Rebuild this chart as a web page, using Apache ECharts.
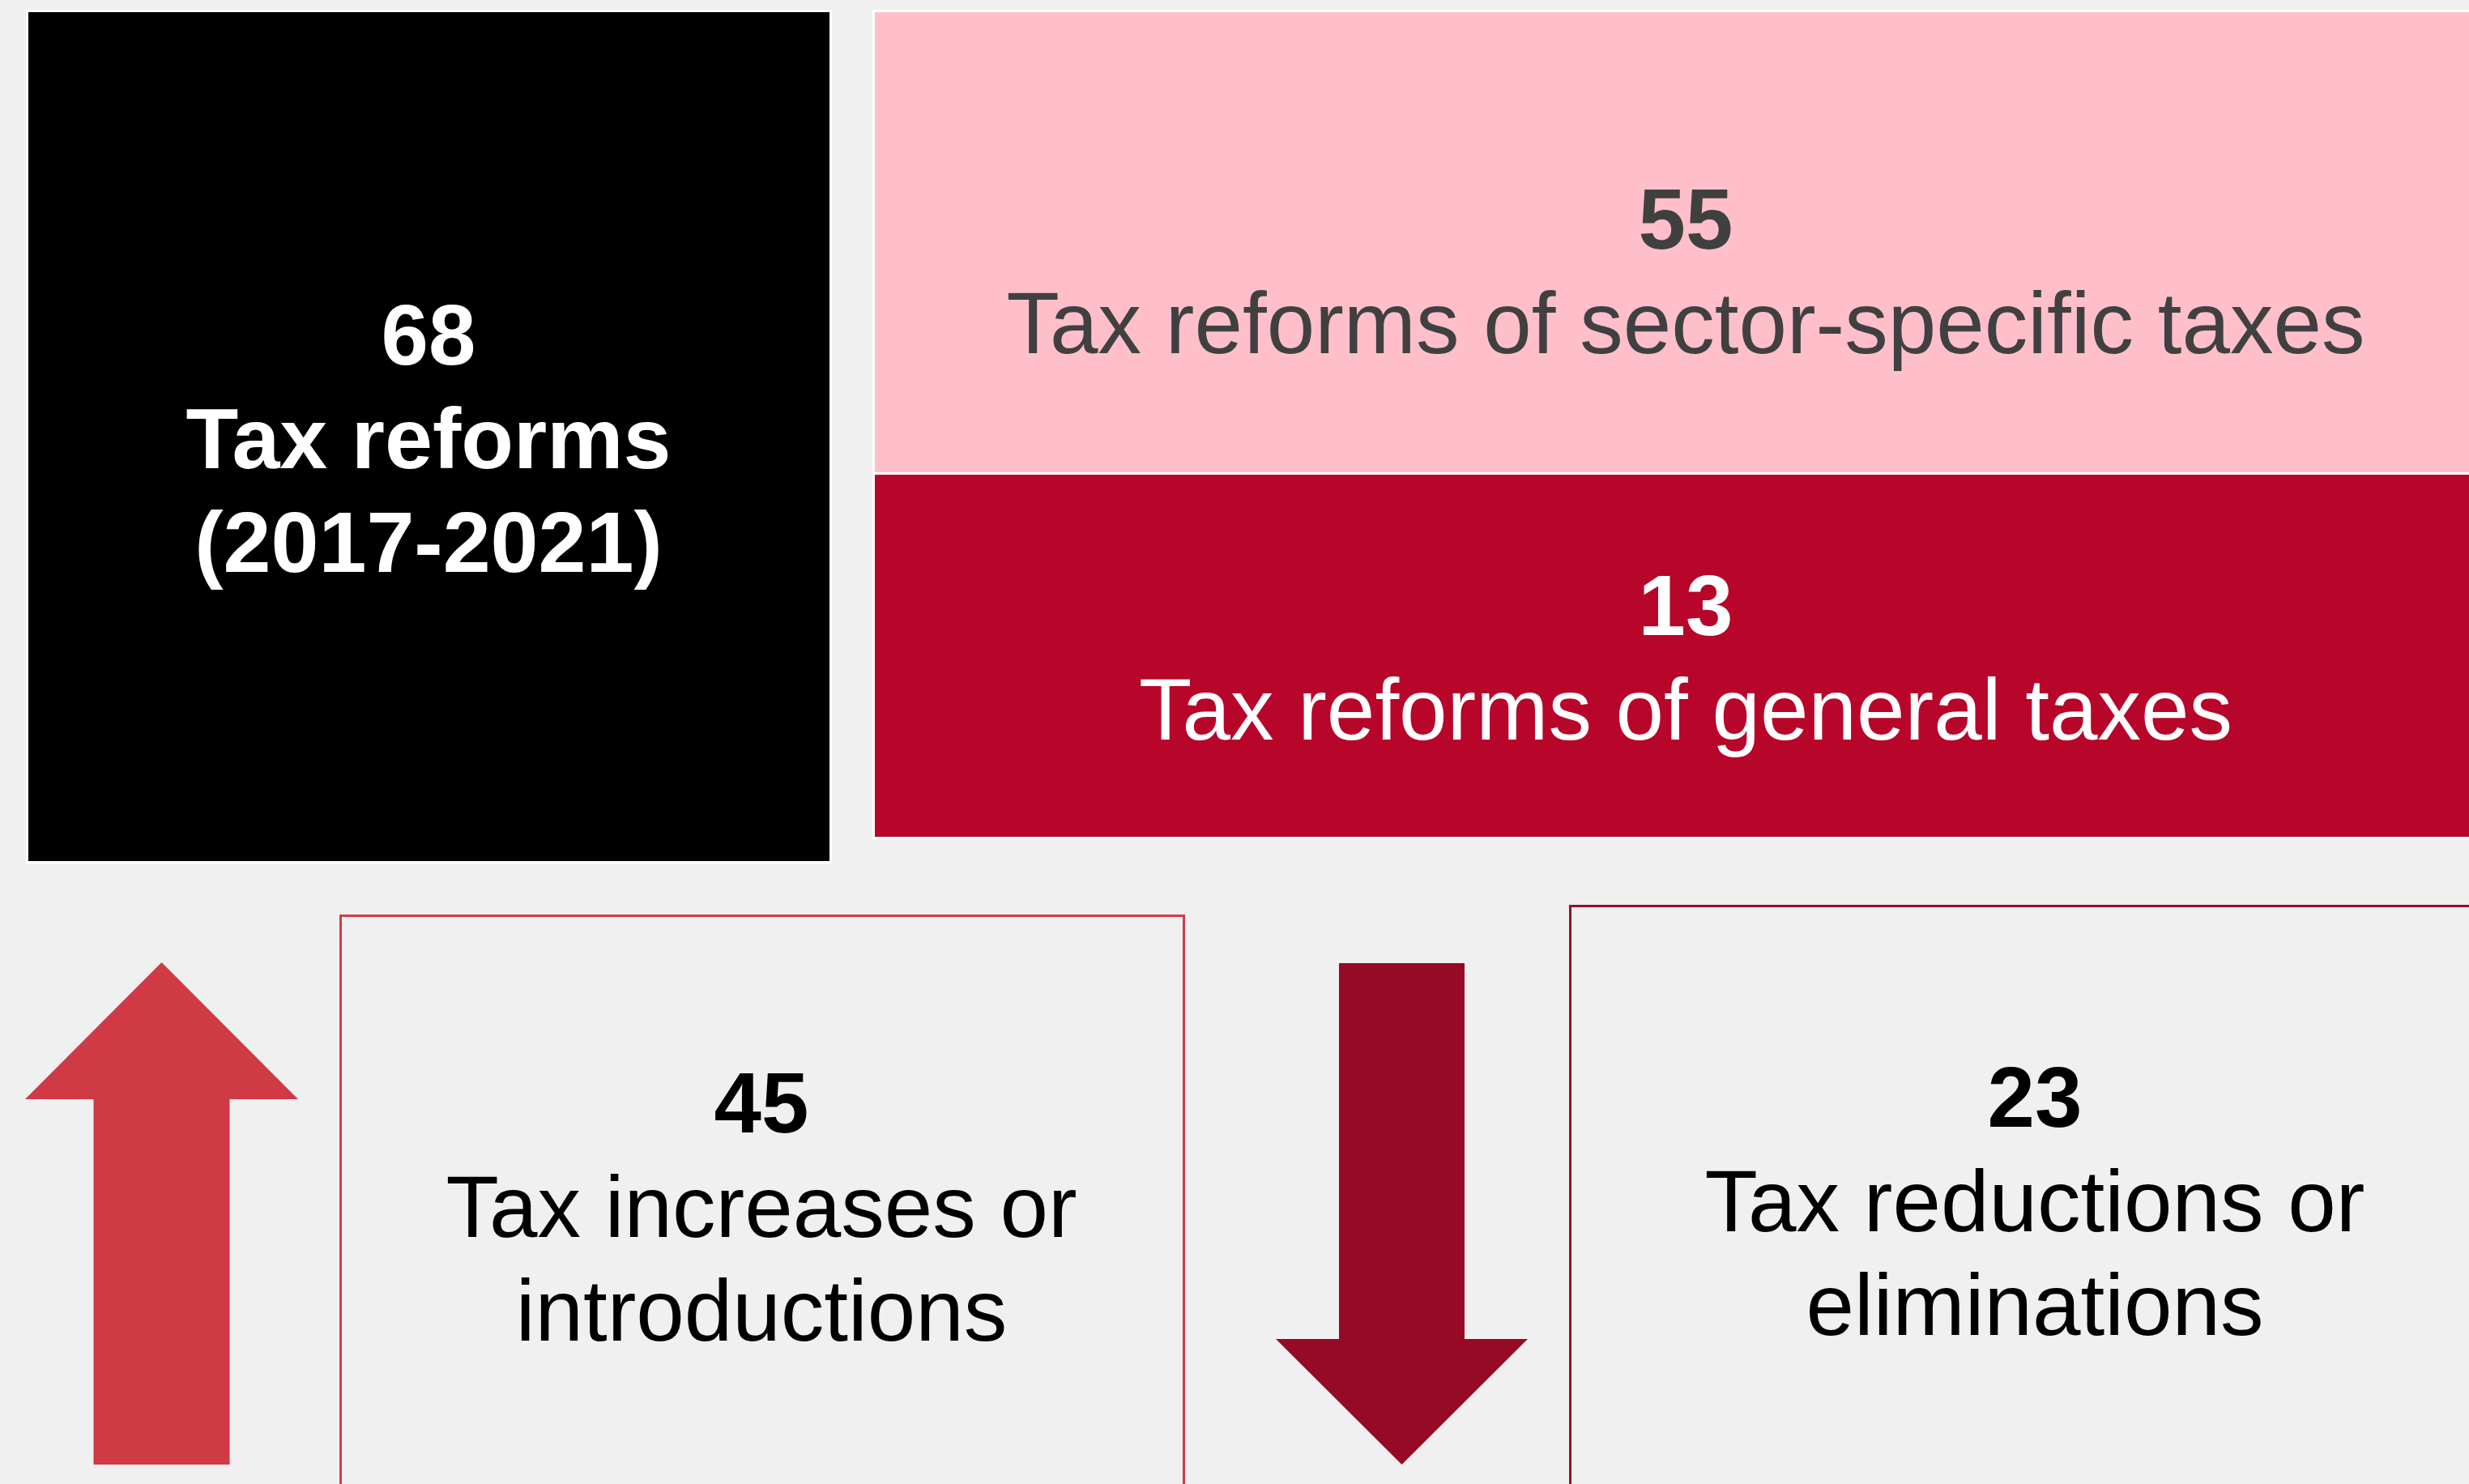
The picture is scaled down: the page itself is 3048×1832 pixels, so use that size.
<!DOCTYPE html>
<html>
<head>
<meta charset="utf-8">
<title>Tax reforms 2017-2021</title>
<script src="https://cdn.jsdelivr.net/npm/echarts@6/dist/echarts.min.js"></script>
<style>
  html, body { margin: 0; padding: 0; background: #F0F0F0; }
  #chart { width: 3048px; height: 1832px; }
</style>
</head>
<body>
<div id="chart"></div>
<script>
// ---- data ----
const tileIds = ['total', 'sector', 'general', 'increase', 'reduction'];
const tileCounts = [68, 55, 13, 45, 23];
const tileLabels = [
  'Tax reforms\n(2017-2021)',
  'Tax reforms of sector-specific taxes',
  'Tax reforms of general taxes',
  'Tax increases or\nintroductions',
  'Tax reductions or\neliminations'
];

// ---- layout (canvas units, mapped through hidden value axes) ----
const W = 3048, H = 1832;
const FONT = '"Liberation Sans", Arial, Helvetica, sans-serif';
const NUMBER_SIZE = 105;
const BOLD_LABEL_SIZE = 106;
const LABEL_SIZE = 107;
const LINE_STEP = 128;
const MIDDLE_OFFSET = 31; // alphabetic baseline sits this far below the text middle

const tileLayout = {
  total:     { box: [35, 15, 1024, 1063],   fill: '#000000', frame: '#FFFFFF', frameW: 3, text: '#FFFFFF', boldLabel: true,  cx: 529,  base: 452 },
  sector:    { box: [1080, 15, 3100, 583],  fill: '#FFBFCA', frame: '#FFFFFF', frameW: 3, text: '#404040', boldLabel: false, cx: 2081, base: 309 },
  general:   { box: [1080, 586, 3100, 1033],fill: '#B8052A', frame: '#FFFFFF', frameW: 3, text: '#FFFFFF', boldLabel: false, cx: 2081, base: 786 },
  increase:  { box: [420.5, 1130.5, 1461.5, 1950], fill: null, stroke: '#D23B49', strokeW: 3, text: '#000000', boldLabel: false, cx: 940, base: 1400 },
  reduction: { box: [1938.5, 1118.5, 3150, 1950], fill: null, stroke: '#9A0C2C', strokeW: 3, text: '#000000', boldLabel: false, cx: 2512, base: 1393 }
};

// arrows: [tipX, tipY, headBaseY, headHalfWidth, shaftHalfWidth, tailY]
const arrowLayout = [
  { id: 'up',   shape: [199.5, 1188, 1357, 168.5, 84, 1808],  color: '#CF3A45' },
  { id: 'down', shape: [1730.5, 1808, 1653, 155.5, 77.5, 1189], color: '#960A26' }
];

function toPx(api, x, y) {
  return api.coord([x, y]);
}

function renderTile(params, api) {
  const i = api.value(0);
  const L = tileLayout[tileIds[i]];
  const [x0, y0, x1, y1] = L.box;
  const p0 = toPx(api, x0, y0);
  const p1 = toPx(api, x1, y1);
  const children = [];

  if (L.fill) {
    const f = L.frameW;
    children.push({
      type: 'rect',
      shape: { x: p0[0] - f, y: p0[1] - f, width: p1[0] - p0[0] + 2 * f, height: p1[1] - p0[1] + 2 * f },
      style: { fill: L.frame }
    });
    children.push({
      type: 'rect',
      shape: { x: p0[0], y: p0[1], width: p1[0] - p0[0], height: p1[1] - p0[1] },
      style: { fill: L.fill }
    });
  } else {
    children.push({
      type: 'rect',
      shape: { x: p0[0], y: p0[1], width: p1[0] - p0[0], height: p1[1] - p0[1] },
      style: { fill: '#F0F0F0', stroke: L.stroke, lineWidth: L.strokeW }
    });
  }

  const lines = [String(api.value(1))].concat(tileLabels[i].split('\n'));
  lines.forEach((line, k) => {
    const isNumber = k === 0;
    const bold = isNumber || L.boldLabel;
    const size = isNumber ? NUMBER_SIZE : (L.boldLabel ? BOLD_LABEL_SIZE : LABEL_SIZE);
    const pt = toPx(api, L.cx, L.base + k * LINE_STEP - MIDDLE_OFFSET);
    children.push({
      type: 'text',
      style: {
        text: line,
        x: pt[0],
        y: pt[1],
        align: 'center',
        verticalAlign: 'middle',
        fill: L.text,
        font: (bold ? 'bold ' : '') + size + 'px ' + FONT
      }
    });
  });

  return { type: 'group', children: children };
}

function renderArrow(params, api) {
  const A = arrowLayout[params.dataIndex];
  const [tx, ty, hb, hw, sw, tail] = A.shape;
  const pts = [
    [tx, ty],
    [tx + hw, hb],
    [tx + sw, hb],
    [tx + sw, tail],
    [tx - sw, tail],
    [tx - sw, hb],
    [tx - hw, hb]
  ].map(p => toPx(api, p[0], p[1]));
  return {
    type: 'polygon',
    shape: { points: pts },
    style: { fill: A.color }
  };
}

const chart = echarts.init(document.getElementById('chart'), null, { renderer: 'canvas' });
chart.setOption({
  backgroundColor: '#F0F0F0',
  animation: false,
  grid: { left: 0, right: 0, top: 0, bottom: 0 },
  xAxis: { type: 'value', min: 0, max: W, show: false },
  yAxis: { type: 'value', min: 0, max: H, inverse: true, show: false },
  series: [
    {
      type: 'custom',
      name: 'arrows',
      coordinateSystem: 'cartesian2d',
      clip: true,
      renderItem: renderArrow,
      data: arrowLayout.map((a, i) => [i, 0]),
      silent: true
    },
    {
      type: 'custom',
      name: 'tiles',
      coordinateSystem: 'cartesian2d',
      clip: true,
      renderItem: renderTile,
      data: tileCounts.map((v, i) => [i, v]),
      encode: { x: 0, y: 1 },
      silent: true
    }
  ]
});
</script>
</body>
</html>
